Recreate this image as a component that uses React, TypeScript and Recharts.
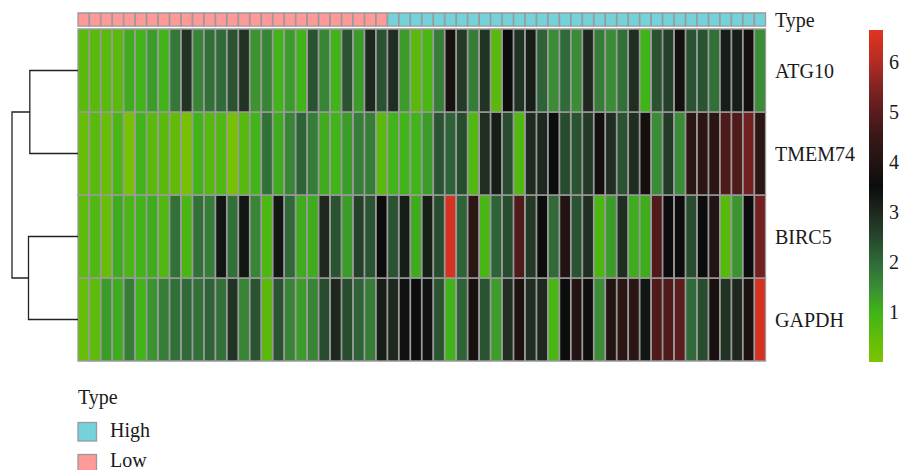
import React from "react";
import { BarChart, Bar, Cell, XAxis, YAxis, Legend, ScatterChart, Scatter } from "recharts";

// ---------- data ----------
const genes = ["ATG10", "TMEM74", "BIRC5", "GAPDH"];

const atg10 = [0.6, 0.6, 0.6, 0.6, 1.1, 1.0, 1.3, 1.0, 1.8, 2.8, 1.6, 1.9, 2.0, 2.3, 2.8, 1.4, 1.6, 1.0, 1.3, 1.0, 2.3, 1.6, 1.0, 2.3, 1.3, 3.0, 2.3, 2.9, 1.3, 0.6, 0.85, 1.7, 3.8, 2.7, 1.7, 2.8, 0.6, 3.5, 2.8, 3.2, 2.1, 1.5, 2.0, 1.5, 3.0, 1.7, 1.5, 1.9, 2.9, 1.0, 2.3, 2.6, 3.7, 2.3, 2.3, 1.9, 3.2, 3.2, 3.7, 1.5];
const tmem74 = [0.4, 0.6, 0.4, 0.85, 0.1, 1.0, 0.6, 0.6, 0.5, 0.1, 1.0, 0.65, 0.75, 0.15, 0.65, 1.0, 1.9, 1.1, 1.6, 2.1, 1.7, 1.1, 1.0, 1.3, 1.7, 1.7, 0.6, 1.0, 1.0, 1.0, 1.3, 2.3, 2.1, 2.4, 0.75, 2.9, 3.2, 2.4, 0.75, 2.95, 3.0, 3.5, 2.4, 2.3, 2.7, 3.7, 2.9, 2.3, 2.9, 3.7, 1.5, 2.7, 1.5, 4.2, 4.2, 4.2, 4.8, 4.8, 5.3, 4.2];
const birc5 = [0.55, 0.75, 0.35, 1.1, 0.85, 1.0, 1.1, 0.75, 1.9, 0.85, 1.9, 1.7, 3.3, 1.9, 3.3, 1.6, 0.8, 3.3, 2.0, 1.1, 1.1, 3.0, 2.3, 1.3, 2.6, 2.3, 3.5, 2.3, 3.2, 1.1, 3.2, 2.4, 6.5, 2.1, 4.2, 0.85, 2.1, 2.4, 4.8, 2.7, 3.5, 2.0, 4.0, 2.3, 2.9, 0.8, 1.3, 2.9, 1.1, 1.1, 4.8, 3.5, 3.5, 2.4, 3.5, 4.0, 0.65, 1.4, 3.5, 5.3];
const gapdh = [0.4, 0.55, 1.3, 1.1, 1.7, 1.0, 1.4, 1.7, 1.9, 2.0, 1.9, 2.1, 1.9, 2.8, 1.6, 2.3, 0.6, 2.3, 1.6, 1.3, 1.6, 2.4, 3.0, 2.4, 2.1, 1.7, 3.2, 3.0, 3.4, 3.5, 3.4, 2.3, 1.0, 2.1, 3.8, 2.3, 1.3, 2.9, 3.9, 2.9, 3.0, 0.85, 3.5, 4.0, 3.6, 1.5, 4.0, 4.2, 4.2, 3.3, 4.8, 4.8, 5.0, 2.0, 2.4, 3.8, 2.8, 3.0, 3.9, 6.5];

const typeGroups = [
  { type: "Low", count: 27 },
  { type: "High", count: 33 },
];
const legendTypes = ["High", "Low"];
const typeColors: Record<string, string> = { High: "#74D3DA", Low: "#FF9A98" };

const colorTicks = [1, 2, 3, 4, 5, 6];
const colorMax = 6.63;
const colorStops: [number, number[]][] = [
  [0, [124, 196, 0]],
  [0.5, [96, 188, 8]],
  [1, [64, 180, 24]],
  [1.5, [58, 140, 54]],
  [2, [47, 106, 56]],
  [2.5, [38, 70, 44]],
  [3, [30, 40, 30]],
  [3.5, [12, 12, 12]],
  [4, [34, 20, 18]],
  [4.5, [56, 24, 24]],
  [5, [92, 28, 28]],
  [5.5, [130, 36, 34]],
  [6, [180, 44, 36]],
  [6.63, [224, 52, 32]],
];

// dendrogram merge heights
const mergeTop = 2.92; // ATG10 + TMEM74
const mergeBottom = 3.0; // BIRC5 + GAPDH
const mergeRoot = 4.0;

// ---------- helpers ----------
const geneValues: Record<string, number[]> = { ATG10: atg10, TMEM74: tmem74, BIRC5: birc5, GAPDH: gapdh };

function colorFor(v: number): string {
  let c = colorStops[colorStops.length - 1][1];
  for (let i = 0; i < colorStops.length - 1; i++) {
    const [a, ca] = colorStops[i];
    const [b, cb] = colorStops[i + 1];
    if (v <= b) {
      const t = Math.max(0, (v - a) / (b - a));
      c = ca.map((x, k) => Math.round(x + (cb[k] - x) * t));
      break;
    }
  }
  return `rgb(${c[0]},${c[1]},${c[2]})`;
}

const sampleTypes: string[] = [];
typeGroups.forEach((g) => {
  for (let i = 0; i < g.count; i++) sampleTypes.push(g.type);
});

const GAP = 0.036;
const TYPEH = 0.157;
const TOTAL = genes.length + GAP + TYPEH;
const stackOrder = [...genes].reverse();

const tableData = sampleTypes.map((t, i) => {
  const row: Record<string, any> = { sample: `S${i + 1}`, type: t, gap: GAP, typeBar: TYPEH };
  stackOrder.forEach((g) => (row[g] = 1));
  return row;
});

const yTicks = [...stackOrder.map((_, i) => i + 0.5), genes.length + GAP + TYPEH / 2];
const yLabels = [...stackOrder, "Type"];

const FONT = "'Liberation Serif', 'DejaVu Serif', serif";
const CELL_STROKE = "#9a9a9a";

const dendroSegments = [
  [
    { h: 0, r: 0.5 },
    { h: mergeTop, r: 0.5 },
    { h: mergeTop, r: 1.5 },
    { h: 0, r: 1.5 },
  ],
  [
    { h: 0, r: 2.5 },
    { h: mergeBottom, r: 2.5 },
    { h: mergeBottom, r: 3.5 },
    { h: 0, r: 3.5 },
  ],
  [
    { h: mergeTop, r: 1 },
    { h: mergeRoot, r: 1 },
    { h: mergeRoot, r: 3 },
    { h: mergeBottom, r: 3 },
  ],
];

const LegendContent = () => (
  <svg width={300} height={90} style={{ display: "block" }}>
    <text x={78} y={24} fontFamily={FONT} fontSize={20} fill="#1a1a1a">
      Type
    </text>
    {legendTypes.map((t, i) => (
      <g key={t}>
        <rect x={78} y={42.5 + i * 32} width={18.5} height={18.5} fill={typeColors[t]} stroke={CELL_STROKE} strokeWidth={1.3} />
        <text x={110} y={57 + i * 30} fontFamily={FONT} fontSize={20} fill="#1a1a1a">
          {t}
        </text>
      </g>
    ))}
  </svg>
);

export default function App() {
  return (
    <div style={{ position: "absolute", left: 0, top: 0, width: 903, height: 470, background: "#fff", overflow: "hidden" }}>
      <BarChart
        width={903}
        height={470}
        data={tableData}
        margin={{ top: 13, right: 37, left: 78, bottom: 109 }}
        barCategoryGap={0}
        barGap={0}
      >
        <XAxis dataKey="sample" type="category" hide />
        <YAxis
          type="number"
          orientation="right"
          domain={[0, TOTAL]}
          ticks={yTicks}
          width={100}
          tickLine={false}
          axisLine={false}
          tickSize={0}
          tickMargin={9}
          interval={0}
          tickFormatter={(_v: number, idx: number) => yLabels[idx]}
          tick={{ fontFamily: FONT, fontSize: 20, fill: "#1a1a1a", textAnchor: "start" }}
        />
        {stackOrder.map((g) => (
          <Bar key={g} dataKey={g} stackId="s" stroke={CELL_STROKE} strokeWidth={1.3} isAnimationActive={false}>
            {geneValues[g].map((v, i) => (
              <Cell key={i} fill={colorFor(v)} />
            ))}
          </Bar>
        ))}
        <Bar dataKey="gap" stackId="s" fill="none" stroke="none" isAnimationActive={false} />
        <Bar dataKey="typeBar" stackId="s" stroke={CELL_STROKE} strokeWidth={1.3} isAnimationActive={false}>
          {sampleTypes.map((t, i) => (
            <Cell key={i} fill={typeColors[t]} />
          ))}
        </Bar>
        <Legend
          layout="horizontal"
          verticalAlign="middle"
          align="center"
          wrapperStyle={{ top: 380, left: 0, width: 300, height: 90 }}
          content={() => <LegendContent />}
        />
      </BarChart>

      {/* colour scale */}
      <div style={{ position: "absolute", left: 860, top: 0 }}>
        <BarChart
          width={43}
          height={470}
          data={[{ k: "scale", v: colorMax }]}
          margin={{ top: 30, right: 0, left: 9, bottom: 108 }}
          barCategoryGap={0}
        >
          <defs>
            <linearGradient id="cbar" x1="0" y1="1" x2="0" y2="0">
              {colorStops.map(([v, c]) => (
                <stop key={v} offset={v / colorMax} stopColor={`rgb(${c[0]},${c[1]},${c[2]})`} />
              ))}
            </linearGradient>
          </defs>
          <XAxis dataKey="k" hide />
          <YAxis
            type="number"
            orientation="right"
            domain={[0, colorMax]}
            ticks={colorTicks}
            width={20}
            tickLine={false}
            axisLine={false}
            tickSize={0}
            tickMargin={6}
            interval={0}
            tick={{ fontFamily: FONT, fontSize: 20, fill: "#1a1a1a", textAnchor: "start" }}
          />
          <Bar dataKey="v" fill="url(#cbar)" isAnimationActive={false} />
        </BarChart>
      </div>

      {/* row dendrogram */}
      <div style={{ position: "absolute", left: 0, top: 0 }}>
        <ScatterChart width={78} height={470} margin={{ top: 29, right: 0, left: 12, bottom: 109 }}>
          <XAxis type="number" dataKey="h" domain={[0, mergeRoot]} reversed hide />
          <YAxis type="number" dataKey="r" domain={[0, genes.length]} reversed hide />
          {dendroSegments.map((seg, i) => (
            <Scatter
              key={i}
              data={seg}
              line={{ stroke: "#222", strokeWidth: 1.3 }}
              lineType="joint"
              shape={() => <g />}
              isAnimationActive={false}
            />
          ))}
        </ScatterChart>
      </div>
    </div>
  );
}
